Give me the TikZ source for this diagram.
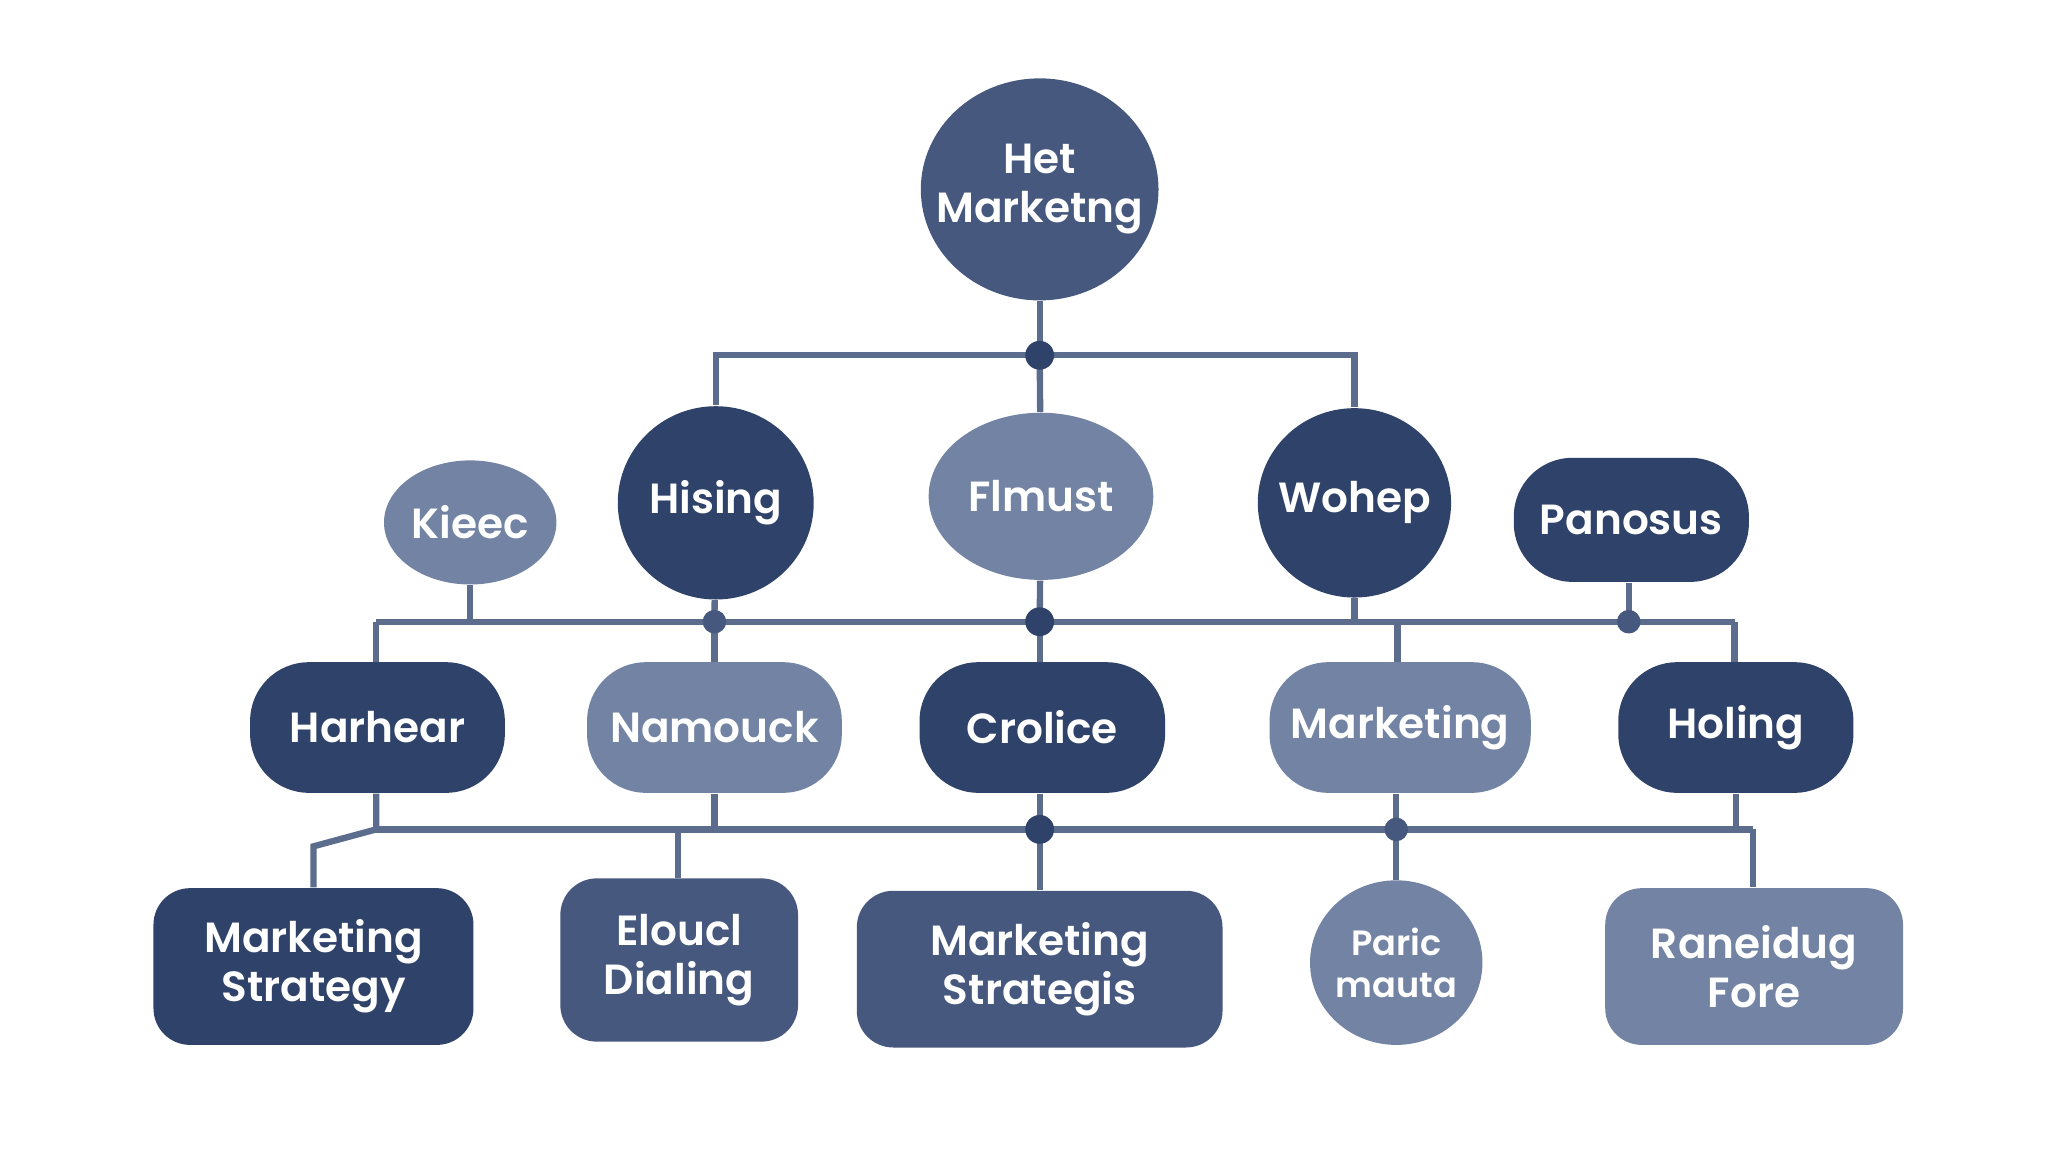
\documentclass[tikz,border=0pt]{standalone}
\usepackage{fontspec}
\setmainfont{Poppins}[BoldFont={Poppins SemiBold}]
\usetikzlibrary{shapes.geometric}
\definecolor{inkdark}{HTML}{2F4269}
\definecolor{inkmid}{HTML}{46587E}
\definecolor{inklight}{HTML}{7283A3}
\definecolor{wirecol}{HTML}{5C6C8C}
\def\px{*0.01306cm}
\tikzset{
  blob/.style={draw=none,text=white,align=center,inner sep=0pt},
  oval/.style={blob,ellipse,inner sep=-6pt},
  pill/.style={blob,rectangle,rounded corners=16.7pt},
  card/.style={blob,rectangle,rounded corners=10.4pt},
  hub/.style={circle,fill=inkdark,inner sep=0pt,minimum size=8.2pt},
  wire/.style={draw=wirecol,line width=1.8pt}
}
\begin{document}
\begin{tikzpicture}[x=0.01306cm,y=-0.01306cm]
  \useasboundingbox (0,0) rectangle (1568,882);
  % Nodes
  \begin{scope}[font=\bfseries\large]
    \node[oval,fill=inkmid,minimum width=182\px,minimum height=170\px] (top) at (796,145) {Het\\Marketng};
    \node[oval,fill=inklight,minimum width=132\px,minimum height=95\px] (kieec) at (360,400) {Kieec};
    \node[oval,fill=inkdark,minimum width=150\px,minimum height=148\px] (hising) at (548,385) {Hising};
    \node[oval,fill=inklight,minimum width=172\px,minimum height=128\px] (flmust) at (797,380) {Flmust};
    \node[oval,fill=inkdark,minimum width=148\px,minimum height=145\px] (wohep) at (1037,385) {Wohep};
    \node[pill,fill=inkdark,minimum width=180\px,minimum height=95\px] (panosus) at (1249,398) {Panosus};
    \node[pill,fill=inkdark,minimum width=195\px,minimum height=100\px] (harhear) at (289,557) {Harhear};
    \node[pill,fill=inklight,minimum width=195\px,minimum height=100\px] (namouck) at (547,557) {Namouck};
    \node[pill,fill=inkdark,minimum width=188\px,minimum height=100\px] (crolice) at (798,557) {Crolice};
    \node[pill,fill=inklight,minimum width=200\px,minimum height=100\px] (mkt) at (1072,557) {Marketing};
    \node[pill,fill=inkdark,minimum width=180\px,minimum height=100\px] (holing) at (1329,557) {Holing};
    \node[card,fill=inkdark,minimum width=245\px,minimum height=120\px] (strat) at (240,740) {Marketing\\Strategy};
    \node[card,fill=inkmid,minimum width=182\px,minimum height=125\px] (elouci) at (520,735) {Eloucl\\Dialing};
    \node[card,fill=inkmid,minimum width=280\px,minimum height=120\px] (strats) at (796,742) {Marketing\\Strategis};
    \node[oval,fill=inklight,minimum width=132\px,minimum height=126\px,font=\bfseries] (paric) at (1069,737) {Paric\\mauta};
    \node[card,fill=inklight,minimum width=228\px,minimum height=120\px] (fore) at (1343,740) {Raneidug\\Fore};
  \end{scope}
  % Junctions
  \coordinate (j0) at (796,272);
  \coordinate (j1) at (796,476);
  \coordinate (j2) at (796,635);
  \coordinate (jl) at (547,476);
  \coordinate (jr) at (1247,476);
  \coordinate (jm) at (1069,635);
  \coordinate (bend) at (240,648);
  \coordinate (b1w) at (288,476);
  \coordinate (b1e) at (1328,476);
  \coordinate (b2w) at (288,635);
  \coordinate (b2e) at (1342,635);
  % Connectors
  \begin{scope}[wire]
    \draw (top) -- (j0);
    \draw (hising) |- (j0) -| (wohep);
    \draw (j0) -- (flmust);
    \draw (b1w) -- (b1e);
    \draw (kieec) -- (kieec |- b1w);
    \draw (hising) -- (jl);
    \draw (flmust) -- (j1);
    \draw (wohep) -- (wohep |- b1w);
    \draw (panosus.south -| jr) -- (jr);
    \draw (b1w) -- (harhear.north -| b1w);
    \draw (jl) -- (namouck);
    \draw (j1) -- (crolice.north -| j1);
    \draw (1070,476) -- (mkt.north -| 1070,0);
    \draw (b1e) -- (holing.north -| b1e);
    \draw (b2w) -- (b2e);
    \draw (harhear.south -| b2w) -- (b2w) -- (bend) -- (strat);
    \draw (namouck) -- (namouck |- b2w);
    \draw (crolice.south -| j2) -- (j2) -- (strats.north -| j2);
    \draw (mkt.south -| jm) -- (jm) -- (paric);
    \draw (holing.south -| 1329,0) -- (1329,635);
    \draw (elouci.north -| 519,0) -- (519,635);
    \draw (b2e) -- (fore.north -| b2e);
  \end{scope}
  \foreach \j in {j0,j1,j2}
    \node[hub] at (\j) {};
  \foreach \j in {jl,jr,jm}
    \node[hub,fill=inkmid,minimum size=6.7pt] at (\j) {};
\end{tikzpicture}
\end{document}
